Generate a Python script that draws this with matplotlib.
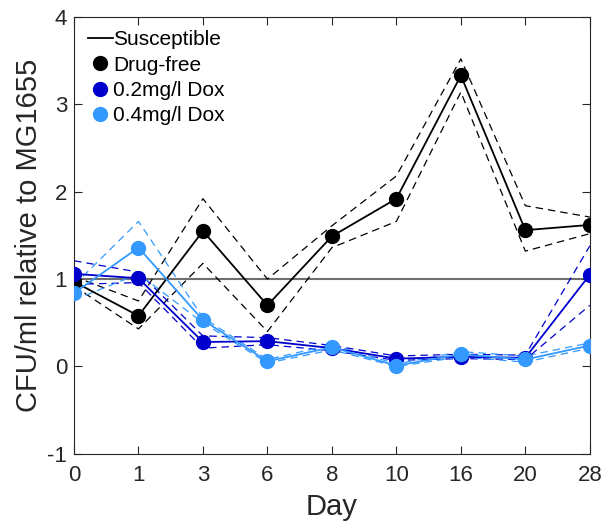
import matplotlib
matplotlib.use("Agg")
import matplotlib.pyplot as plt
from matplotlib.lines import Line2D
import numpy as np

plt.rcParams['font.family'] = ['Liberation Sans', 'DejaVu Sans']

days = ["0", "1", "3", "6", "8", "10", "16", "20", "28"]

drug_free = [0.97, 0.58, 1.55, 0.70, 1.49, 1.92, 3.33, 1.56, 1.62]
drug_free_hi = [1.03, 0.75, 1.92, 1.00, 1.61, 2.18, 3.52, 1.84, 1.71]
drug_free_lo = [0.92, 0.43, 1.18, 0.40, 1.36, 1.66, 3.14, 1.32, 1.52]

dox02 = [1.06, 1.01, 0.28, 0.29, 0.21, 0.09, 0.11, 0.10, 1.05]
dox02_hi = [1.21, 1.08, 0.35, 0.33, 0.24, 0.12, 0.14, 0.13, 1.38]
dox02_lo = [0.94, 0.96, 0.21, 0.25, 0.18, 0.07, 0.09, 0.08, 0.70]

dox04 = [0.84, 1.36, 0.53, 0.06, 0.22, 0.01, 0.14, 0.08, 0.24]
dox04_hi = [0.93, 1.66, 0.56, 0.08, 0.25, 0.03, 0.17, 0.12, 0.27]
dox04_lo = [0.76, 1.06, 0.50, 0.04, 0.19, 0.00, 0.11, 0.05, 0.21]

susceptible = 1.0

black = '#000000'
blue = '#0000CD'
lblue = '#3399FF'

fig = plt.figure(figsize=(6.04, 5.29), dpi=100)
ax = fig.add_axes([0.1225, 0.142, 0.854, 0.826])
x = np.arange(len(days))

ax.axhline(susceptible, color='#6e6e6e', lw=1.5, zorder=1)

for mean, hi, lo, c in [(drug_free, drug_free_hi, drug_free_lo, black),
                        (dox02, dox02_hi, dox02_lo, blue),
                        (dox04, dox04_hi, dox04_lo, lblue)]:
    ax.plot(x, hi, '--', color=c, lw=0.9, dashes=(6, 4), zorder=2)
    ax.plot(x, lo, '--', color=c, lw=0.9, dashes=(6, 4), zorder=2)
    ax.plot(x, mean, '-', color=c, lw=1.3, marker='o', markersize=10, zorder=3)

ax.set_xlim(0, 8)
ax.set_ylim(-1, 4)
ax.set_xticks(x)
ax.set_xticklabels(days)
ax.set_yticks([-1, 0, 1, 2, 3, 4])
ax.set_yticklabels(['-1', '0', '1', '2', '3', '4'])
ax.tick_params(direction='in', top=True, right=True, labelsize=16, length=6,
               width=0.8, colors='#262626')
ax.tick_params(axis='x', pad=8)
ax.tick_params(axis='y', pad=5)
for s in ax.spines.values():
    s.set_color('#262626')
    s.set_linewidth(0.8)
ax.set_xlabel('Day', fontsize=21, color='#262626', labelpad=5)
ax.set_ylabel('CFU/ml relative to MG1655', fontsize=21, color='#262626', labelpad=3)

handles = [Line2D([], [], color=black, lw=1.3),
           Line2D([], [], color=black, marker='o', ls='none', markersize=10),
           Line2D([], [], color=blue, marker='o', ls='none', markersize=10),
           Line2D([], [], color=lblue, marker='o', ls='none', markersize=10)]
labels = ['Susceptible', 'Drug-free', '0.2mg/l Dox', '0.4mg/l Dox']
ax.legend(handles, labels, loc='upper left', frameon=False, fontsize=15,
          handlelength=1.2, handletextpad=0.02, labelspacing=0.3,
          borderaxespad=0.4, borderpad=0.25)

fig.savefig('out.png', dpi=100)
